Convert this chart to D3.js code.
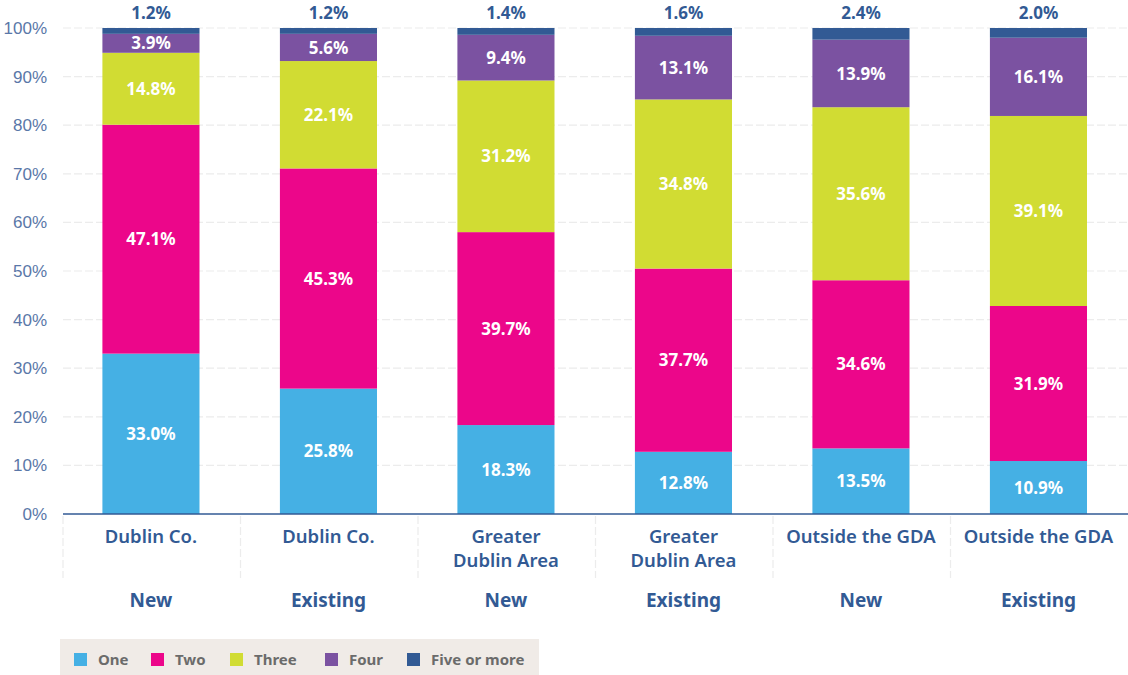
<!DOCTYPE html>
<html>
<head>
<meta charset="utf-8">
<script src="https://cdn.jsdelivr.net/npm/d3@7"></script>
<style>
  body { margin: 0; background: #fff; }
  svg { display: block; font-family: "Noto Sans", "Open Sans", sans-serif; }
</style>
</head>
<body>
<div id="chart"></div>
<script>
// chart values
var regions = ["Dublin Co.", "Dublin Co.", "Greater Dublin Area", "Greater Dublin Area", "Outside the GDA", "Outside the GDA"];
var stockType = ["New", "Existing", "New", "Existing", "New", "Existing"];
var series = ["One", "Two", "Three", "Four", "Five or more"];
var one = [33.0, 25.8, 18.3, 12.8, 13.5, 10.9];
var two = [47.1, 45.3, 39.7, 37.7, 34.6, 31.9];
var three = [14.8, 22.1, 31.2, 34.8, 35.6, 39.1];
var four = [3.9, 5.6, 9.4, 13.1, 13.9, 16.1];
var fiveMore = [1.2, 1.2, 1.4, 1.6, 2.4, 2.0];
var yTicks = [0, 10, 20, 30, 40, 50, 60, 70, 80, 90, 100];

var colors = ["#45b0e4", "#ec068a", "#d1dc33", "#7b52a1", "#325a94"];
var values = [one, two, three, four, fiveMore];

var width = 1128, height = 675;
var margin = {top: 28, right: 0, bottom: 161, left: 63};
var innerW = width - margin.left - margin.right;
var innerH = height - margin.top - margin.bottom;

var svg = d3.select("#chart").append("svg")
  .attr("width", width)
  .attr("height", height);

var g = svg.append("g")
  .attr("transform", `translate(${margin.left},${margin.top})`);

var idx = d3.range(regions.length);
var xCell = d3.scaleBand().domain(idx).range([0, innerW]);
var barW = xCell.bandwidth() * 0.547;
var barX = i => xCell(i) + xCell.bandwidth() * 0.222;
var y = d3.scaleLinear().domain([0, 100]).range([innerH, 0]);

// gridlines
g.selectAll(".grid").data(yTicks.filter(d => d > 0)).enter().append("line")
  .attr("x1", 0).attr("x2", innerW)
  .attr("y1", d => y(d)).attr("y2", d => y(d))
  .attr("stroke", "#ececec").attr("stroke-width", 1.2)
  .attr("stroke-dasharray", "8,3");

// y axis
var yAxis = d3.axisLeft(y).tickValues(yTicks).tickFormat(d => d + "%").tickSize(0).tickPadding(16);
var ya = g.append("g").call(yAxis);
ya.select(".domain").remove();
ya.selectAll("text").attr("fill", "#5a77a8").style("font-size", "17px").style("font-weight", 300);

// stacked data
var rows = idx.map(i => {
  var r = {i: i};
  series.forEach((s, k) => r[s] = values[k][i]);
  return r;
});
var stack = d3.stack().keys(series)(rows);

var layer = g.selectAll(".layer").data(stack).enter().append("g")
  .attr("fill", (d, k) => colors[k]);

layer.selectAll("rect").data(d => d).enter().append("rect")
  .attr("x", d => barX(d.data.i))
  .attr("width", barW)
  .attr("y", d => y(d[1]))
  .attr("height", d => y(d[0]) - y(d[1]));

// segment labels
stack.forEach((s, k) => {
  var last = k === series.length - 1;
  g.selectAll(".lbl" + k).data(s).enter().append("text")
    .attr("x", d => barX(d.data.i) + barW / 2)
    .attr("y", d => last ? y(d[1]) - 15 : y((d[0] + d[1]) / 2))
    .attr("dy", "0.36em")
    .attr("text-anchor", "middle")
    .attr("fill", last ? "#325a94" : "#fff")
    .style("font-size", "17px")
    .style("font-weight", 700)
    .text(d => (d[1] - d[0]).toFixed(1) + "%");
});

// x axis line
g.append("line")
  .attr("x1", 0).attr("x2", innerW)
  .attr("y1", innerH).attr("y2", innerH)
  .attr("stroke", "#325a94").attr("stroke-width", 1.5);

// category separators
g.selectAll(".sep").data(idx).enter().append("line")
  .attr("x1", d => xCell(d)).attr("x2", d => xCell(d))
  .attr("y1", innerH + 2).attr("y2", innerH + 64)
  .attr("stroke", "#ececec").attr("stroke-width", 1.2)
  .attr("stroke-dasharray", "8,3");

// category labels
idx.forEach(i => {
  var cx = barX(i) + barW / 2;
  var words = regions[i] === "Greater Dublin Area" ? ["Greater", "Dublin Area"] : [regions[i]];
  var t = g.append("text")
    .attr("text-anchor", "middle")
    .attr("fill", "#325a94")
    .style("font-size", "18.5px")
    .style("font-weight", 600);
  words.forEach((w, j) => {
    t.append("tspan")
      .attr("x", cx)
      .attr("y", innerH + 29 + j * 24)
      .text(w);
  });
  g.append("text")
    .attr("x", cx)
    .attr("y", innerH + 93)
    .attr("text-anchor", "middle")
    .attr("fill", "#325a94")
    .style("font-size", "19px")
    .style("font-weight", 700)
    .text(stockType[i]);
});

// legend
var legend = svg.append("g").attr("transform", "translate(60,639)");
legend.append("rect").attr("width", 479).attr("height", 36).attr("fill", "#f0ebe7");
var legX = [14, 91, 170, 265, 347];
series.forEach((s, k) => {
  var item = legend.append("g").attr("transform", `translate(${legX[k]},14)`);
  item.append("rect").attr("width", 13).attr("height", 13).attr("fill", colors[k]);
  item.append("text").attr("x", 24).attr("y", 7).attr("dy", "0.36em")
    .attr("fill", "#6b6b6b").style("font-size", "15px").style("font-weight", 700)
    .text(s);
});
</script>
</body>
</html>
